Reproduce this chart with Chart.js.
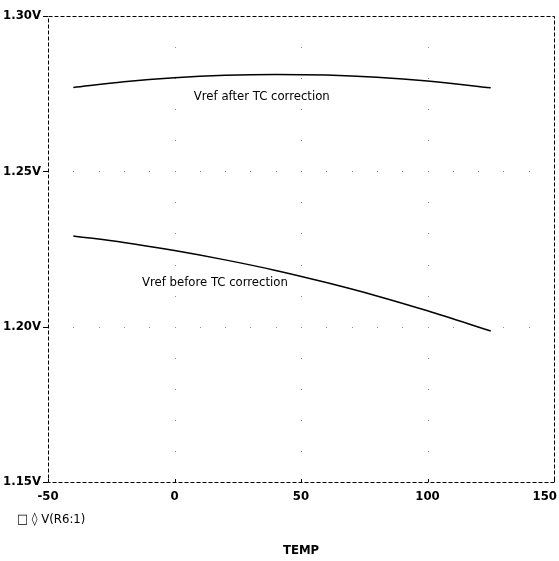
<!DOCTYPE html>
<html>
<head>
<meta charset="utf-8">
<script src="https://cdn.jsdelivr.net/npm/chart.js@4/dist/chart.umd.min.js"></script>
<style>
  html, body { margin: 0; padding: 0; background: #fff; }
  #wrap { width: 559px; height: 561px; position: relative; }
</style>
</head>
<body>
<div id="wrap"><canvas id="c"></canvas></div>
<script>
// temperature sweep (deg C)
const temps = [-40, -20, 0, 20, 40, 60, 80, 100, 125];
// Vref after TC correction
const vrefAfter = [1.2770, 1.2788, 1.2801, 1.2809, 1.2812, 1.2810, 1.2803, 1.2791, 1.2769];
// Vref before TC correction
const vrefBefore = [1.2292, 1.2271, 1.2245, 1.2215, 1.2181, 1.2142, 1.2099, 1.2051, 1.1986];

const xTicks = [-50, 0, 50, 100, 150];
const yTicks = [1.15, 1.20, 1.25, 1.30];
const notes = [
  { text: 'Vref after TC correction', x: 34.5, y: 1.2739 },
  { text: 'Vref before TC correction', x: 16, y: 1.2141 }
];
const legendText = '\u25a1 \u25ca V(R6:1)';

const FONT = '"DejaVu Sans Condensed", "DejaVu Sans", sans-serif';

const probePlot = {
  id: 'probePlot',
  beforeDatasetsDraw(chart) {
    const ctx = chart.ctx;
    const x = chart.scales.x, y = chart.scales.y;
    const a = chart.chartArea;
    ctx.save();
    ctx.fillStyle = '#8a8a8a';
    // dots along major x lines at every 0.01 V
    [0, 50, 100].forEach(t => {
      for (let v = 1.16; v < 1.295; v += 0.01) {
        ctx.fillRect(Math.round(x.getPixelForValue(t)), Math.round(y.getPixelForValue(v)), 1, 1);
      }
    });
    // dots along major y lines at every 10 deg
    [1.20, 1.25].forEach(v => {
      for (let t = -40; t < 150; t += 10) {
        ctx.fillRect(Math.round(x.getPixelForValue(t)), Math.round(y.getPixelForValue(v)), 1, 1);
      }
    });
    // dashed frame
    ctx.strokeStyle = '#000';
    ctx.lineWidth = 1;
    ctx.setLineDash([4, 2]);
    ctx.strokeRect(Math.round(a.left) + 0.5, Math.round(a.top) + 0.5, Math.round(a.right - a.left), Math.round(a.bottom - a.top));
    ctx.setLineDash([]);
    // small ticks: x on the bottom edge, y out to the left
    ctx.beginPath();
    xTicks.forEach(t => {
      const px = Math.round(x.getPixelForValue(t)) + 0.5;
      ctx.moveTo(px, a.bottom);
      ctx.lineTo(px, a.bottom - 3);
    });
    yTicks.forEach(v => {
      const py = Math.round(y.getPixelForValue(v)) + 0.5;
      ctx.moveTo(a.left - 5, py);
      ctx.lineTo(a.left, py);
    });
    ctx.stroke();
    ctx.restore();
  },
  afterDraw(chart) {
    const ctx = chart.ctx;
    const x = chart.scales.x, y = chart.scales.y;
    const a = chart.chartArea;
    ctx.save();
    ctx.fillStyle = '#000';
    ctx.textBaseline = 'middle';
    // x tick labels, kept inside the canvas
    ctx.font = 'bold 13px ' + FONT;
    xTicks.forEach(t => {
      const s = String(t);
      const w = ctx.measureText(s).width;
      let px = x.getPixelForValue(t) - w / 2;
      px = Math.min(px, chart.width - 2 - w);
      ctx.textAlign = 'left';
      ctx.fillText(s, px, a.bottom + 15);
    });
    ctx.font = '13px ' + FONT;
    ctx.textAlign = 'center';
    notes.forEach(n => ctx.fillText(n.text, x.getPixelForValue(n.x), y.getPixelForValue(n.y)));
    ctx.textAlign = 'left';
    ctx.fillText(legendText, 17, 520);
    ctx.restore();
  }
};

new Chart(document.getElementById('c'), {
  type: 'line',
  data: {
    labels: temps,
    datasets: [
      { data: temps.map((t, i) => ({ x: t, y: vrefAfter[i] })) },
      { data: temps.map((t, i) => ({ x: t, y: vrefBefore[i] })) }
    ]
  },
  options: {
    responsive: true,
    maintainAspectRatio: false,
    animation: false,
    events: [],
    layout: { padding: { top: 16, right: 5, left: 0, bottom: 0 }, autoPadding: false },
    elements: {
      point: { radius: 0 },
      line: { borderColor: '#000', borderWidth: 1.5, cubicInterpolationMode: 'monotone' }
    },
    plugins: { legend: { display: false }, tooltip: { enabled: false } },
    scales: {
      x: {
        type: 'linear',
        min: -50, max: 150,
        afterBuildTicks: s => { s.ticks = xTicks.map(v => ({ value: v })); },
        afterFit: s => { s.height = 79; s.paddingLeft = 0; s.paddingRight = 0; },
        grid: { display: false, drawTicks: false },
        border: { display: false },
        ticks: { display: false },
        title: {
          display: true,
          text: 'TEMP',
          color: '#000',
          font: { family: FONT, size: 13, weight: 'bold' },
          padding: { top: 0, bottom: 3 }
        }
      },
      y: {
        min: 1.15, max: 1.30,
        afterBuildTicks: s => { s.ticks = yTicks.map(v => ({ value: v })); },
        afterFit: s => { s.width = 48; s.paddingTop = 0; s.paddingBottom = 0; },
        grid: { display: false, drawTicks: false },
        border: { display: false },
        ticks: {
          padding: 7,
          color: '#000',
          font: { family: FONT, size: 13, weight: 'bold' },
          callback: v => v.toFixed(2) + 'V'
        }
      }
    }
  },
  plugins: [probePlot]
});
</script>
</body>
</html>
